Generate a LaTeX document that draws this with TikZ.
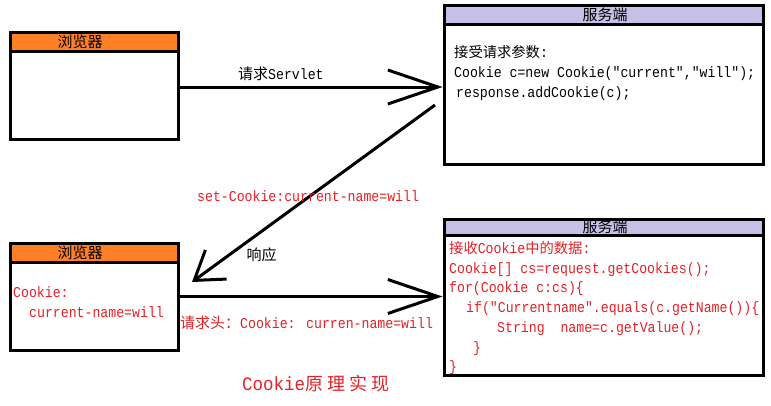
\documentclass[tikz,border=0pt]{standalone}
\usepackage{fontspec}
\usetikzlibrary{arrows.meta}
\newfontfamily\monof[FakeStretch=0.88]{Liberation Mono}
\newfontfamily\titlef[FakeStretch=0.92]{Liberation Mono}
\newfontfamily\cjkf{Noto Sans CJK SC}
\newcommand{\zh}[2][15]{{\cjkf\fontsize{#1}{#1}\selectfont #2}}
\definecolor{hdrorange}{RGB}{255,127,39}
\definecolor{hdrlav}{RGB}{200,191,231}
\definecolor{codered}{RGB}{228,32,36}
\begin{document}
\begin{tikzpicture}[x=1pt,y=-1pt,
  box/.style={draw=black, line width=3pt, inner sep=0pt, fill=white},
  hdr/.style={draw=black, line width=3pt, inner sep=0pt, anchor=north},
  hdrtext/.style={inner sep=0pt, font=\cjkf\fontsize{15}{15}\selectfont},
  code/.style={anchor=base west, inner sep=0pt, font=\monof\fontsize{15}{18}\selectfont},
  redcode/.style={code, text=codered},
  link/.style={line width=3pt, -{Straight Barb[length=50pt,width=34pt,line width=3pt]}},
  linkb/.style={line width=3pt, -{Straight Barb[length=27pt,width=36pt,line width=3pt]}},
]
\useasboundingbox (0,0) rectangle (771,405);

% top browser
\node[box, minimum width=168pt, minimum height=106.5pt] (b1) at (94.5,85.75) {};
\node[hdr, fill=hdrorange, minimum width=168pt, minimum height=19pt] (b1h) at (b1.north) {};
\node[hdrtext] (b1t) at (80,42) {浏览器};

% top server
\node[box, minimum width=319.5pt, minimum height=158.5pt] (s1) at (603.75,84.75) {};
\node[hdr, fill=hdrlav, minimum width=319.5pt, minimum height=18.5pt] (s1h) at (s1.north) {};
\node[hdrtext] (s1t) at (605,14.5) {服务端};
\node[code] (s1l1) at (454,57.5) {\zh[14.3]{接受请求参数}:};
\node[code] (s1l2) at (454,77.5) {Cookie c=new Cookie("current","will");};
\node[code] (s1l3) at (456,97.5) {response.addCookie(c);};

% bottom browser
\node[box, minimum width=168pt, minimum height=107pt] (b3) at (94.5,296.5) {};
\node[hdr, fill=hdrorange, minimum width=168pt, minimum height=19.5pt] (b3h) at (b3.north) {};
\node[hdrtext] (b3t) at (80,252.5) {浏览器};
\node[redcode] (b3l1) at (13,297) {Cookie:};
\node[redcode] (b3l2) at (29,317) {current-name=will};

% bottom server
\node[box, minimum width=319.5pt, minimum height=156pt] (s4) at (603.75,297) {};
\node[hdr, fill=hdrlav, minimum width=319.5pt, minimum height=16.5pt] (s4h) at (s4.north) {};
\node[hdrtext] (s4t) at (605,227) {服务端};
\node[redcode] (s4l1) at (449,253) {\zh[14.3]{接收}Cookie\zh[14.3]{中的数据}:};
\node[redcode] (s4l2) at (449,273) {Cookie[] cs=request.getCookies();};
\node[redcode] (s4l3) at (449,292.5) {for(Cookie c:cs)\{};
\node[redcode] (s4l4) at (466,312) {if("Currentname".equals(c.getName())\{};
\node[redcode] (s4l5) at (497,332) {String\ \ name=c.getValue();};
\node[redcode] (s4l6) at (473,352) {\}};
\node[redcode] (s4l7) at (449,371.5) {\}};

% connectors
\draw[link] ([yshift=-1.25pt]b1.east) -- ([yshift=-2.25pt]s1.west);
\coordinate (a2s) at (435,105);
\coordinate (a2e) at (192,282);
\draw[linkb] (a2s) -- (a2e);
\draw[link] (b3.east) -- (b3.east -| s4.west);

% labels
\node[code] (l1) at (238,79) {\zh{请求}Servlet};
\node[redcode] (l2) at (197,201) {set-Cookie:current-name=will};
\node[hdrtext] (l3) at (261.5,255) {响应};
\node[redcode] (l4) at (180,328) {\zh{请求头：}Cookie: curren-name=will};
\node[code, text=codered, font=\titlef\fontsize{19}{22}\selectfont] (title) at (242,390)
  {Cookie\zh[18]{原\hspace{4pt}理\hspace{4pt}实\hspace{4pt}现}};
\end{tikzpicture}
\end{document}
